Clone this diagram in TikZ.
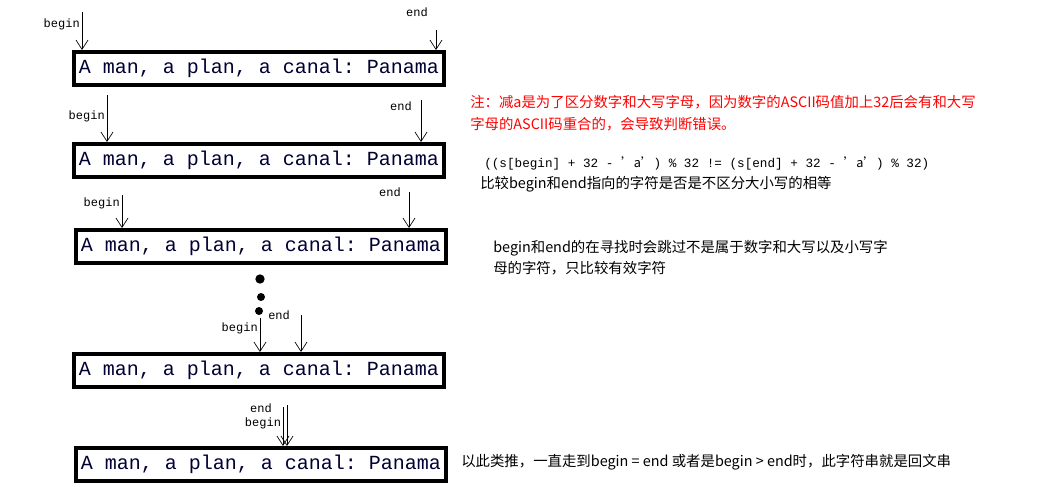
\documentclass[tikz,border=0pt]{standalone}
\usepackage{fontspec}
\setmainfont{Liberation Serif}
\setmonofont{Liberation Mono}
\newfontfamily\cjk{Noto Sans CJK SC}
\usetikzlibrary{arrows.meta}
\begin{document}
\begin{tikzpicture}[x=0.75pt,y=-0.75pt,
  strbox/.style={draw,line width=3pt,anchor=north west,minimum width=370*0.75pt,minimum height=33*0.75pt,inner sep=0pt,font=\ttfamily\fontsize{15}{15}\selectfont,text=black!80!blue},
  ptr/.style={-{Straight Barb[length=7pt,width=9pt]},line width=0.5pt},
  lbl/.style={font=\ttfamily\fontsize{9}{9}\selectfont,inner sep=0pt},
  note/.style={anchor=west,font=\cjk\fontsize{10.8}{12}\selectfont,inner sep=0pt}]
\useasboundingbox (0,0) rectangle (1043,486);
\node[strbox] (b1) at (72,50) {A man, a plan, a canal: Panama};
\node[strbox] (b2) at (72,142) {A man, a plan, a canal: Panama};
\node[strbox] (b3) at (74,228) {A man, a plan, a canal: Panama};
\node[strbox] (b4) at (72,352) {A man, a plan, a canal: Panama};
\node[strbox] (b5) at (74,446) {A man, a plan, a canal: Panama};
% row1
\coordinate (s1) at (82,12); \coordinate (e1) at (436,30);
\draw[ptr] (s1) -- (s1 |- b1.north);
\draw[ptr] (e1) -- (e1 |- b1.north);
\node[lbl,anchor=east] (lb1) at (80,24) {begin};
\node[lbl,anchor=east] (le1) at (428,12) {end};
% row2
\coordinate (s2) at (107,95); \coordinate (e2) at (421,100);
\draw[ptr] (s2) -- (s2 |- b2.north);
\draw[ptr] (e2) -- (e2 |- b2.north);
\node[lbl,anchor=east] (lb2) at (105,116) {begin};
\node[lbl,anchor=east] (le2) at (412,106) {end};
% row3
\coordinate (s3) at (122,195); \coordinate (e3) at (409,192);
\draw[ptr] (s3) -- (s3 |- b3.north);
\draw[ptr] (e3) -- (e3 |- b3.north);
\node[lbl,anchor=east] (lb3) at (120,203) {begin};
\node[lbl,anchor=east] (le3) at (401,192) {end};
% dots
\fill (260,279) circle (3.5pt);
\fill (261,297) circle (3pt);
\fill (259,311) circle (3pt);
% row4
\coordinate (s4) at (260,318); \coordinate (e4) at (301,315);
\draw[ptr] (s4) -- (s4 |- b4.north);
\draw[ptr] (e4) -- (e4 |- b4.north);
\node[lbl,anchor=east] (lb4) at (258,328) {begin};
\node[lbl,anchor=west] (le4) at (268,315) {end};
% row5
\coordinate (s5) at (283,407); \coordinate (e5) at (287,405);
\draw[ptr] (s5) -- (s5 |- b5.north);
\draw[ptr] (e5) -- (e5 |- b5.north);
\node[lbl] (le5) at (261,408) {end};
\node[lbl] (lb5) at (263,423) {begin};
% notes
\node[note,text=red] (n1) at (470,102) {注：减a是为了区分数字和大写字母，因为数字的ASCII码值加上32后会有和大写};
\node[note,text=red] (n2) at (470,124) {字母的ASCII码重合的，会导致判断错误。};
\node[note,font=\ttfamily\fontsize{9.5}{12}\selectfont] (n3) at (484,163) {((s[begin] + 32 - {\cjk ’a’}) \% 32 != (s[end] + 32 - {\cjk ’a’}) \% 32)};
\node[note] (n4) at (480,184) {比较begin和end指向的字符是否是不区分大小写的相等};
\node[note] (n5) at (493,248) {begin和end的在寻找时会跳过不是属于数字和大写以及小写字};
\node[note] (n6) at (493,268) {母的字符，只比较有效字符};
\node[note] (n7) at (461,462) {以此类推，一直走到begin = end 或者是begin > end时，此字符串就是回文串};
\end{tikzpicture}
\end{document}
